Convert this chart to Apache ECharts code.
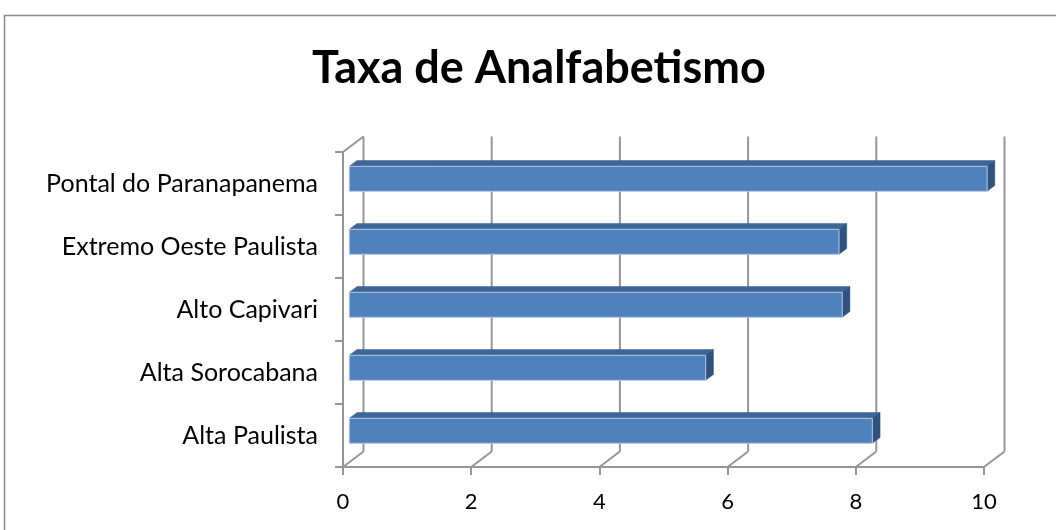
<!DOCTYPE html>
<html>
<head>
<meta charset="utf-8">
<script src="https://cdn.jsdelivr.net/npm/echarts@6/dist/echarts.min.js"></script>
<style>html,body{margin:0;padding:0;background:#fff;}#c{width:1056px;height:530px;}</style>
</head>
<body>
<div id="c"></div>
<script>
var titleText = 'Taxa de Analfabetismo';
var categories = ['Alta Paulista', 'Alta Sorocabana', 'Alto Capivari', 'Extremo Oeste Paulista', 'Pontal do Paranapanema'];
var values = [8.16, 5.56, 7.69, 7.64, 9.95];
var xTicks = [0, 2, 4, 6, 8, 10];

var FONT = 'Lato, "Open Sans", sans-serif';
var GRID_COLOR = '#969696';
var WALL_DX = 20.5, WALL_DY = -15.5;

var chart = echarts.init(document.getElementById('c'));

function renderWalls(params, api) {
  var v = api.value(0);
  var cs = params.coordSys;
  var x = api.coord([v, 0])[0];
  var top = cs.y, bottom = cs.y + cs.height;
  var style = { stroke: GRID_COLOR, lineWidth: 2, fill: null };
  var children = [
    { type: 'line', shape: { x1: x + WALL_DX, y1: top + WALL_DY, x2: x + WALL_DX, y2: bottom + WALL_DY }, style: style },
    { type: 'line', shape: { x1: x, y1: bottom, x2: x + WALL_DX, y2: bottom + WALL_DY }, style: style }
  ];
  if (params.dataIndex === 0) {
    children.push({ type: 'line', shape: { x1: x, y1: top, x2: x + WALL_DX, y2: top + WALL_DY }, style: style });
  }
  return { type: 'group', children: children };
}

function renderBar(params, api) {
  var v = api.value(0), idx = api.value(1);
  var end = api.coord([v, idx]);
  var x0 = api.coord([0, idx])[0];
  var band = api.size([0, 1])[1];
  var off = 6.3, ddx = 7.7, ddy = -5.8;
  var xl = x0 + off, xr = end[0] + off;
  var yt = end[1] - band * 0.273, yb = end[1] + band * 0.124;
  return {
    type: 'group',
    children: [
      { type: 'polygon', shape: { points: [[xl, yt], [xl + ddx, yt + ddy], [xr + ddx, yt + ddy], [xr, yt]] },
        style: { fill: '#3D6597', stroke: '#3D6597', lineWidth: 0.5 } },
      { type: 'polygon', shape: { points: [[xr, yt], [xr + ddx, yt + ddy], [xr + ddx, yb + ddy], [xr, yb]] },
        style: { fill: '#30527E', stroke: '#30527E', lineWidth: 0.5 } },
      { type: 'rect', shape: { x: xl, y: yt, width: xr - xl, height: yb - yt },
        style: { fill: '#4F81BD', stroke: '#B3C8E3', lineWidth: 1 } }
    ]
  };
}

var option = {
  animation: false,
  title: {
    text: titleText,
    left: 534, top: 41, textAlign: 'center',
    textStyle: { fontFamily: FONT, fontWeight: 'bold', fontSize: 45, color: '#000' }
  },
  graphic: [
    { type: 'rect', shape: { x: 4.5, y: 15.5, width: 1200, height: 700 },
      style: { fill: null, stroke: '#8A8A8A', lineWidth: 1.5 }, silent: true, z: -10 }
  ],
  grid: { left: 343, top: 152, width: 641, height: 315, containLabel: false },
  xAxis: {
    type: 'value', min: 0, max: 10, interval: 2,
    axisLine: { show: true, lineStyle: { color: GRID_COLOR, width: 2 } },
    axisTick: { show: true, length: 8, lineStyle: { color: GRID_COLOR, width: 2 } },
    axisLabel: { fontFamily: FONT, fontSize: 22, color: '#000', margin: 24 },
    splitLine: { show: false }
  },
  yAxis: {
    type: 'category', data: categories,
    axisLine: { show: true, lineStyle: { color: GRID_COLOR, width: 2 } },
    axisTick: { show: true, length: 8, lineStyle: { color: GRID_COLOR, width: 2 } },
    axisLabel: { fontFamily: FONT, fontSize: 25, color: '#000', margin: 25 }
  },
  series: [
    { type: 'custom', renderItem: renderWalls, data: xTicks.map(function (t) { return [t, 0]; }), z: 1, silent: true },
    { type: 'custom', renderItem: renderBar,
      data: values.map(function (v, i) { return [v, i]; }),
      encode: { x: 0, y: 1 }, z: 2 }
  ]
};
chart.setOption(option);
</script>
</body>
</html>
